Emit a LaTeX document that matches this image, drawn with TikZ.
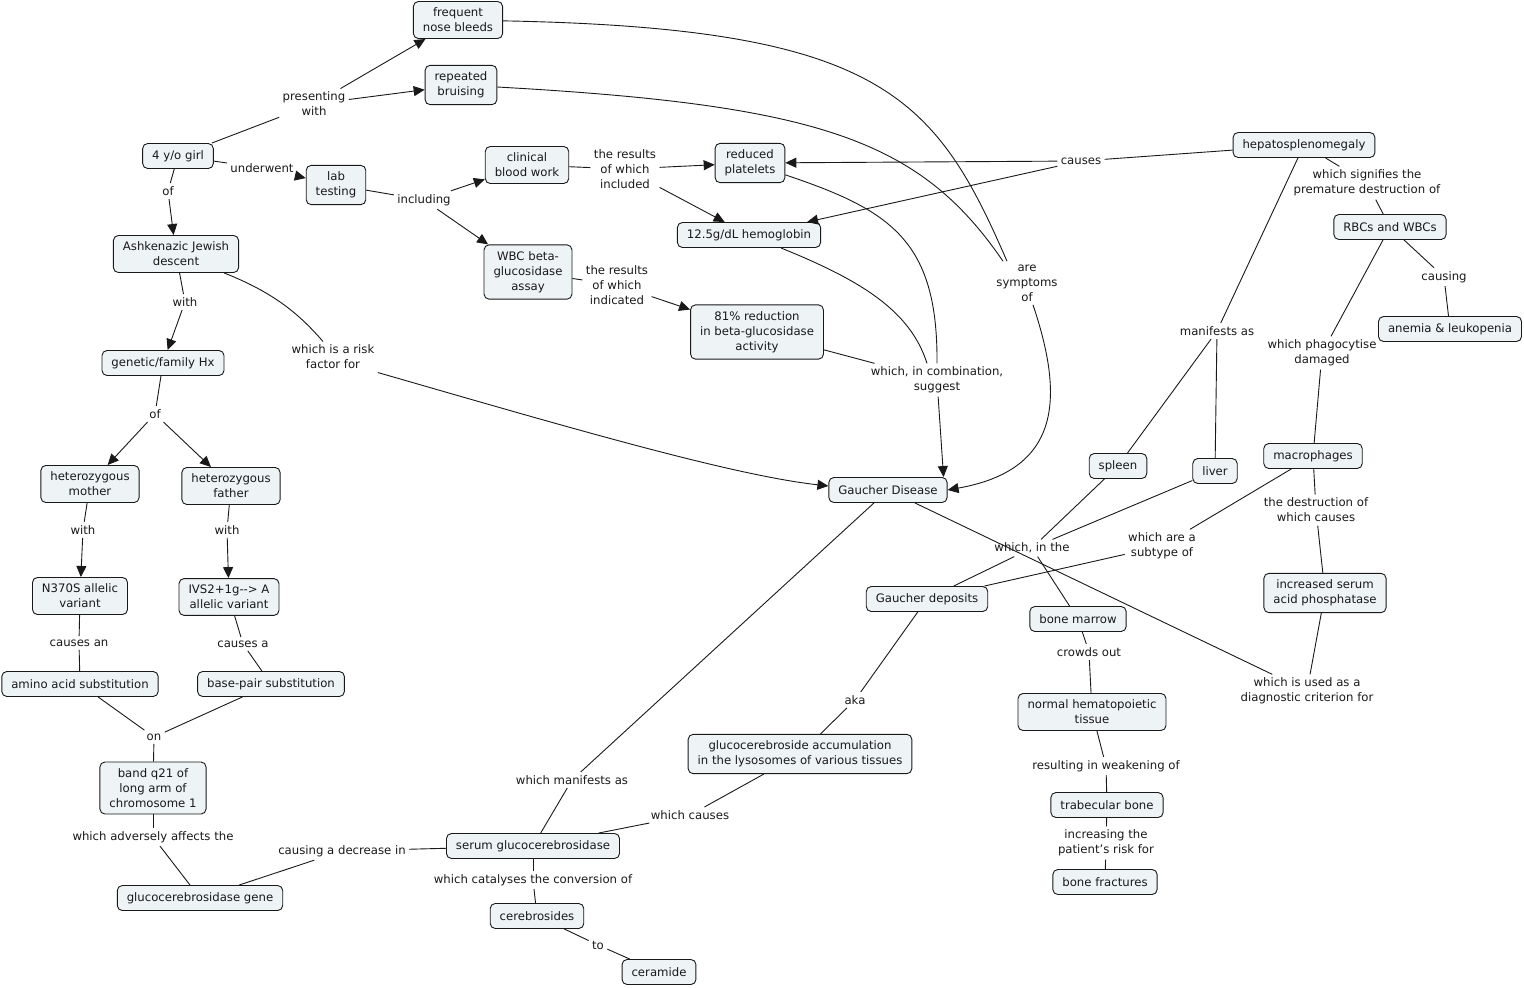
\documentclass[tikz,border=0pt]{standalone}
\usepackage{fontspec}
\setmainfont{DejaVu Sans}
\usetikzlibrary{arrows.meta}

\definecolor{boxfill}{RGB}{238,243,246}
\definecolor{inkcol}{RGB}{25,25,25}
\newcommand\mapfont{\fontsize{11.7}{15}\selectfont}

\tikzset{
  cpt/.style={draw=inkcol, fill=boxfill, rounded corners=5pt, align=center,
    inner xsep=9.5pt, inner ysep=6.5pt, minimum height=25pt, font=\mapfont, text=inkcol},
  lnk/.style={align=center, inner sep=1pt, outer sep=2.5pt, font=\mapfont, text=inkcol},
  arr/.style={-{Triangle[length=11pt,width=10pt]}},
}

\begin{document}
\begin{tikzpicture}[x=1pt,y=-1pt,line width=0.9pt,draw=inkcol]
  \useasboundingbox (0,0) rectangle (1524,988);

  % concepts
  \node[cpt] (girl) at (178,156) {4 y/o girl};
  \node[cpt] (ashk) at (176,254) {Ashkenazic Jewish\\descent};
  \node[cpt] (famhx) at (163,363) {genetic/family Hx};
  \node[cpt] (mother) at (90,484) {heterozygous\\mother};
  \node[cpt] (father) at (231,486) {heterozygous\\father};
  \node[cpt] (nvar) at (80,596) {N370S allelic\\variant};
  \node[cpt] (ivar) at (229,597) {IVS2+1g-{}-> A\\allelic variant};
  \node[cpt] (amino) at (80,684) {amino acid substitution};
  \node[cpt] (basepair) at (271,684) {base-pair substitution};
  \node[cpt] (band) at (153,788) {band q21 of\\long arm of\\chromosome 1};
  \node[cpt] (gene) at (200,898) {glucocerebrosidase gene};
  \node[cpt] (serum) at (533,846) {serum glucocerebrosidase};
  \node[cpt] (cereb) at (537,916) {cerebrosides};
  \node[cpt] (ceram) at (659,972) {ceramide};
  \node[cpt] (accum) at (800,754) {glucocerebroside accumulation\\in the lysosomes of various tissues};
  \node[cpt] (deposits) at (927,599) {Gaucher deposits};
  \node[cpt] (gaucher) at (888,490) {Gaucher Disease};
  \node[cpt] (nose) at (458,20) {frequent\\nose bleeds};
  \node[cpt] (bruise) at (461,85) {repeated\\bruising};
  \node[cpt] (lab) at (336,185) {lab\\testing};
  \node[cpt] (blood) at (527,165) {clinical\\blood work};
  \node[cpt] (wbc) at (528,272) {WBC beta-\\glucosidase\\assay};
  \node[cpt] (platelets) at (750,163) {reduced\\platelets};
  \node[cpt] (hemo) at (749,235) {12.5g/dL hemoglobin};
  \node[cpt] (reduct) at (757,332) {81\% reduction\\in beta-glucosidase\\activity};
  \node[cpt] (hepato) at (1304,145) {hepatosplenomegaly};
  \node[cpt] (rbc) at (1390,227) {RBCs and WBCs};
  \node[cpt] (anemia) at (1450,329) {anemia \& leukopenia};
  \node[cpt] (macro) at (1313,456) {macrophages};
  \node[cpt] (spleen) at (1118,466) {spleen};
  \node[cpt] (liver) at (1215,471) {liver};
  \node[cpt] (acidp) at (1325,593) {increased serum\\acid phosphatase};
  \node[cpt] (marrow) at (1078,619) {bone marrow};
  \node[cpt] (hemtissue) at (1092,712) {normal hematopoietic\\tissue};
  \node[cpt] (trab) at (1107,805) {trabecular bone};
  \node[cpt] (fract) at (1105,882) {bone fractures};

  % linking phrases
  \node[lnk] (lpres) at (314,104) {presenting\\with};
  \node[lnk] (lunder) at (262,168) {underwent};
  \node[lnk] (lof) at (168,191) {of};
  \node[lnk] (lwith) at (185,302) {with};
  \node[lnk] (lrisk) at (333,357) {which is a risk\\factor for};
  \node[lnk] (lof2) at (155,414) {of};
  \node[lnk] (lwithm) at (83,530) {with};
  \node[lnk] (lwithf) at (227,530) {with};
  \node[lnk] (lcausean) at (79,643) {causes an};
  \node[lnk] (lcausesa) at (243,644) {causes a};
  \node[lnk] (lon) at (154,737) {on};
  \node[lnk] (ladverse) at (153,837) {which adversely affects the};
  \node[lnk] (ldecrease) at (342,851) {causing a decrease in};
  \node[lnk] (lcatal) at (533,880) {which catalyses the conversion of};
  \node[lnk] (lto) at (598,945) {to};
  \node[lnk] (lwcauses) at (690,815) {which causes};
  \node[lnk] (lwmanif) at (572,780) {which manifests as};
  \node[lnk] (laka) at (855,700) {aka};
  \node[lnk] (lincl) at (424,200) {including};
  \node[lnk] (lres1) at (625,169) {the results\\of which\\included};
  \node[lnk] (lres2) at (617,285) {the results\\of which\\indicated};
  \node[lnk] (lcomb) at (937,380) {which, in combination,\\suggest};
  \node[lnk] (lsym) at (1027,283) {are\\symptoms\\of};
  \node[lnk] (lcauses) at (1081,161) {causes};
  \node[lnk] (lsignif) at (1367,183) {which signifies the\\premature destruction of};
  \node[lnk] (lcausing) at (1444,277) {causing};
  \node[lnk] (lmanif) at (1217,331) {manifests as};
  \node[lnk] (lphago) at (1322,353) {which phagocytise\\damaged};
  \node[lnk] (linthe) at (1032,548) {which, in the};
  \node[lnk] (lsubtype) at (1162,546) {which are a\\subtype of};
  \node[lnk] (ldestr) at (1316,510) {the destruction of\\which causes};
  \node[lnk] (ldiag) at (1307,691) {which is used as a\\diagnostic criterion for};
  \node[lnk] (lcrowds) at (1089,652) {crowds out};
  \node[lnk] (lweak) at (1106,766) {resulting in weakening of};
  \node[lnk] (lriskfor) at (1106,843) {increasing the\\patient's risk for};

  % plain connectors
  \foreach \a/\b in {girl/lpres, girl/lunder, girl/lof, ashk/lwith, famhx/lof2,
      mother/lwithm, father/lwithf, nvar/lcausean, lcausean/amino, ivar/lcausesa,
      lcausesa/basepair, amino/lon, basepair/lon, lon/band, band/ladverse,
      ladverse/gene, gene/ldecrease, ldecrease/serum, serum/lcatal, lcatal/cereb,
      cereb/lto, lto/ceram, serum/lwcauses, lwcauses/accum, serum/lwmanif,
      lwmanif/gaucher, accum/laka, laka/deposits, lab/lincl, blood/lres1,
      wbc/lres2, reduct/lcomb, hepato/lcauses, hepato/lsignif, lsignif/rbc,
      rbc/lcausing, lcausing/anemia, rbc/lphago, lphago/macro, hepato/lmanif,
      lmanif/spleen, lmanif/liver, spleen/linthe, liver/linthe, linthe/deposits,
      linthe/marrow, macro/lsubtype, lsubtype/deposits, macro/ldestr, ldestr/acidp,
      acidp/ldiag, gaucher/ldiag, marrow/lcrowds, lcrowds/hemtissue,
      hemtissue/lweak, lweak/trab, trab/lriskfor, lriskfor/fract}
    \draw (\a) -- (\b);

  % arrows
  \foreach \a/\b in {lpres/nose, lpres/bruise, lunder/lab, lof/ashk, lwith/famhx,
      lof2/mother, lof2/father, lwithm/nvar, lwithf/ivar, lincl/blood, lincl/wbc,
      lres1/platelets, lres1/hemo, lres2/reduct, lcauses/platelets, lcauses/hemo}
    \draw[arr] (\a) -- (\b);
  \draw[arr] (lcomb) -- ([xshift=-4pt]gaucher.north east);

  % curved connectors
  \draw (ashk) .. controls (275,293) and (300,315) .. ([xshift=-10pt]lrisk.north);
  \draw[arr] (lrisk.south east) .. controls (560,425) and (730,475) .. ([yshift=4pt]gaucher.west);
  \draw (nose) .. controls (880,28) and (935,95) .. ([xshift=14pt]lsym.north west);
  \draw (bruise) .. controls (820,105) and (920,140) .. ([xshift=10pt]lsym.north west);
  \draw[arr] ([xshift=6pt]lsym.south) .. controls (1065,400) and (1060,470) .. (gaucher.east);
  \draw (platelets) .. controls (890,210) and (938,240) .. (lcomb.north);
  \draw (hemo) .. controls (860,280) and (910,310) .. ([xshift=-10pt]lcomb.north);
\end{tikzpicture}
\end{document}
